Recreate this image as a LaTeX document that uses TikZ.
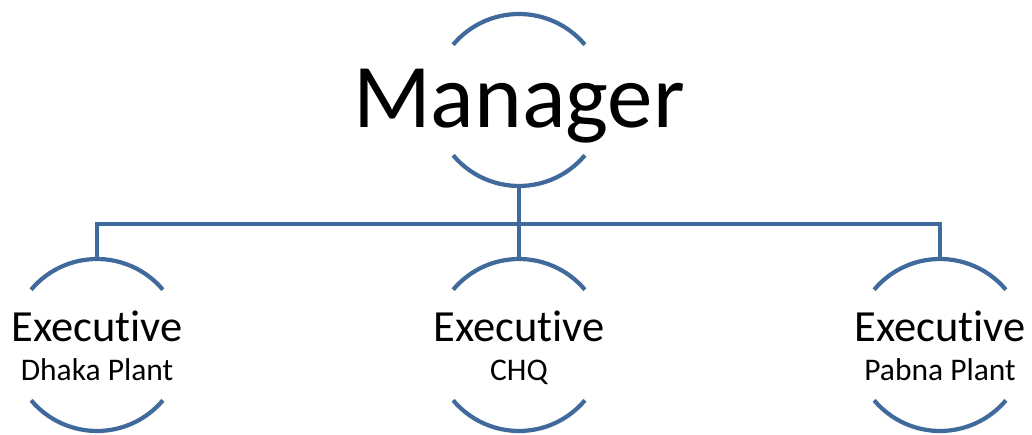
\documentclass[tikz,border=0pt]{standalone}
\usepackage{fontspec}
\setmainfont{Carlito}[Ligatures=NoCommon]
\definecolor{linkblue}{RGB}{65,106,156}

\begin{document}
\begin{tikzpicture}[x=1pt, y=1pt,
    ring/.style={circle, minimum size=172pt, inner sep=0pt, outer sep=0pt},
    arcline/.style={draw=linkblue, line width=4.2pt},
    link/.style={draw=linkblue, line width=4.2pt},
    big/.style={anchor=base, font=\fontsize{91}{100}\selectfont},
    title/.style={anchor=base, font=\fontsize{44.5}{48}\selectfont},
    place/.style={anchor=base, font=\fontsize{31.5}{34}\selectfont}]
      \useasboundingbox (0, 0) rectangle (1032, 435);

      \node[ring] (mgr) at (519, 335) {};
      \node[ring] (ex1) at (97, 90) {};
      \node[ring] (ex2) at (519, 90) {};
      \node[ring] (ex3) at (940, 90) {};

      \foreach \n in {mgr, ex1, ex2, ex3} {
        \draw[arcline] (\n.40) arc[start angle=40, end angle=140, radius=86];
        \draw[arcline] (\n.220) arc[start angle=220, end angle=320, radius=86];
      }

      \node[big] (mgrtext) at (519, 307) {Manager};
      \node[title] (ex1text) at (97, 93) {Executive};
      \node[place] (ex1sub) at (97, 54) {Dhaka Plant};
      \node[title] (ex2text) at (519, 93) {Executive};
      \node[place] (ex2sub) at (519, 54) {CHQ};
      \node[title] (ex3text) at (940, 93) {Executive};
      \node[place] (ex3sub) at (940, 54) {Pabna Plant};

      \draw[link] (mgr.south) -- ++(0, -38) coordinate (joint);
      \draw[link] (joint) -| (ex1.north);
      \draw[link] (joint) -| (ex3.north);
      \draw[link] (joint) -- (ex2.north);
    \end{tikzpicture}
\end{document}
